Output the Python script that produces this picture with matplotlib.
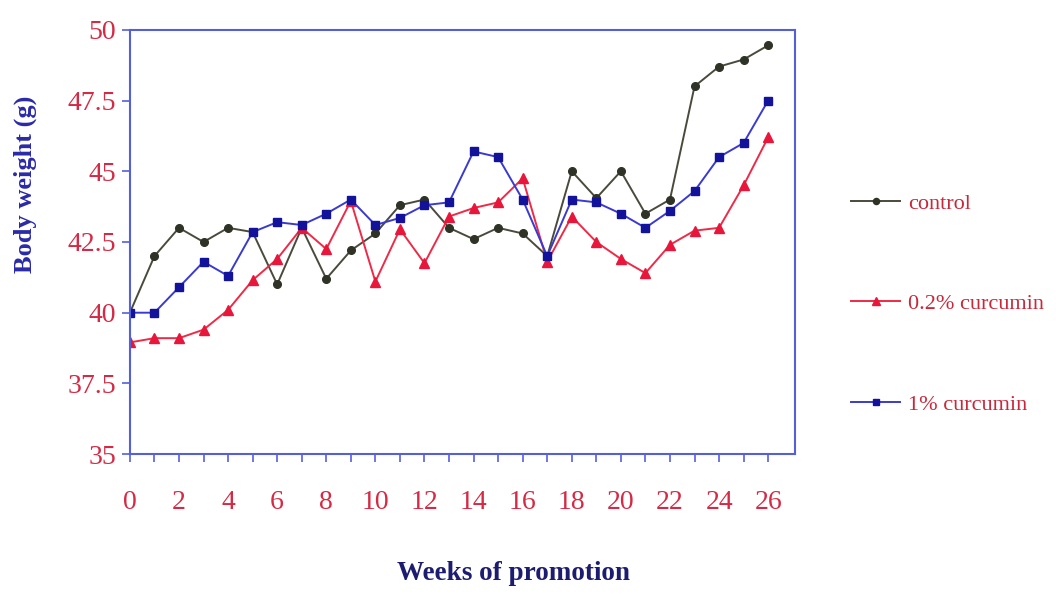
import matplotlib.pyplot as plt
import numpy as np

weeks = list(range(27))
control = [40.0, 42.0, 43.0, 42.5, 43.0, 42.85, 41.0, 43.0, 41.2, 42.2, 42.8, 43.8, 44.0, 43.0,
           42.6, 43.0, 42.8, 42.0, 45.0, 44.05, 45.0, 43.5, 44.0, 48.0, 48.7, 48.95, 49.45]
curcumin_02 = [38.95, 39.1, 39.1, 39.4, 40.1, 41.15, 41.9, 43.0, 42.25, 43.95, 41.1, 42.95, 41.75, 43.4,
               43.7, 43.9, 44.75, 41.8, 43.4, 42.5, 41.9, 41.4, 42.4, 42.9, 43.0, 44.5, 46.2]
curcumin_1 = [40.0, 40.0, 40.9, 41.8, 41.3, 42.85, 43.2, 43.1, 43.5, 44.0, 43.1, 43.35, 43.8, 43.9,
              45.7, 45.5, 44.0, 42.0, 44.0, 43.9, 43.5, 43.0, 43.6, 44.3, 45.5, 46.0, 47.5]
labels = ['control', '0.2% curcumin', '1% curcumin']

plt.rcParams['font.family'] = ['Liberation Serif', 'DejaVu Serif']
tick_red = '#d42a45'
axis_blue = '#5560d8'

fig = plt.figure(figsize=(10.56, 5.96), dpi=100)
ax = fig.add_axes([0.123, 0.238, 0.63, 0.712])

ax.plot(weeks, control, color='#4a4a3c', lw=1.4, marker='o', ms=5.5, mfc='#2e3326', mec='#2e3326', label=labels[0])
ax.plot(weeks, curcumin_02, color='#ee2a48', lw=1.4, marker='^', ms=7, mfc='#e8163a', mec='#e8163a', label=labels[1])
ax.plot(weeks, curcumin_1, color='#3a3ad0', lw=1.4, marker='s', ms=6, mfc='#12129a', mec='#12129a', label=labels[2])

ax.set_xlim(0, 27.1)
ax.set_ylim(35, 50)
ax.set_xticks(range(0, 27, 2))
ax.set_xticks(range(0, 27), minor=True)
ax.set_yticks([35, 37.5, 40, 42.5, 45, 47.5, 50])
ax.set_yticklabels(['35', '37.5', '40', '42.5', '45', '47.5', '50'])
ax.tick_params(axis='both', which='both', direction='out', colors=axis_blue, labelcolor=tick_red,
               labelsize=20, length=6, width=1.2)
ax.tick_params(axis='x', pad=20)
ax.tick_params(axis='y', pad=4)
for s in ax.spines.values():
    s.set_color(axis_blue)
    s.set_linewidth(1.5)

fig.text(0.024, 0.69, 'Body weight (g)', fontsize=19, fontweight='bold', color='#2a2aa8',
         rotation=90, ha='center', va='center')
fig.text(0.486, 0.027, 'Weeks of promotion', fontsize=19.5, fontweight='bold', color='#1c1c70', ha='center')

leg = fig.legend(loc='center left', bbox_to_anchor=(0.787, 0.49), frameon=False, fontsize=16,
                 labelspacing=3.6, handlelength=2.2, handletextpad=0.35, markerscale=0.8)
for t in leg.get_texts():
    t.set_color('#c8283a')

fig.savefig('out.png', dpi=100)
